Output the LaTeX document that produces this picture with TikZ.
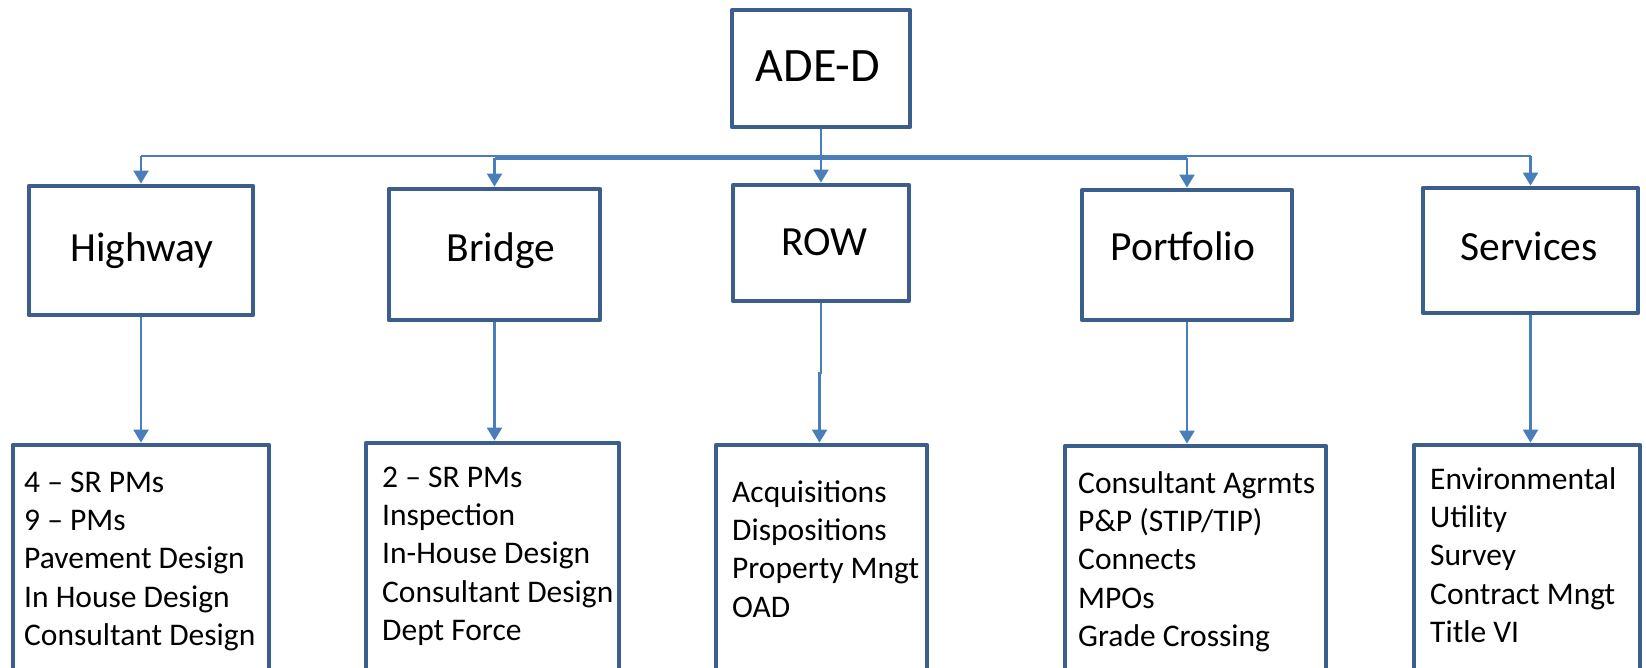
\documentclass[tikz,border=0pt]{standalone}
\usepackage{fontspec}
\setmainfont{Carlito}
\usetikzlibrary{arrows.meta}
\definecolor{boxblue}{HTML}{3B5E8C}
\definecolor{linkblue}{HTML}{4A7EBB}
\newcommand{\bodyfont}{\fontsize{31.5}{38.4}\selectfont}
\newcommand{\midfont}{\fontsize{41.5}{50}\selectfont}
\newcommand{\topfont}{\fontsize{48}{58}\selectfont}
\begin{document}
\begin{tikzpicture}[x=1pt,y=-1pt,
  orgbox/.style={draw=boxblue, line width=4.8pt, fill=white, inner sep=0pt, rectangle, line join=round},
  link/.style={draw=linkblue, line width=2.2pt},
  tip/.style={-{Triangle[width=15pt,length=13pt]}},
  midtext/.style={anchor=base, inner sep=0pt, font=\midfont},
  listtext/.style={anchor=north west, inner sep=0pt, align=left, font=\bodyfont}]
\useasboundingbox (0,0) rectangle (1646,668);
\clip (0,0) rectangle (1646,668);
% boxes
\node[orgbox, minimum width=178pt, minimum height=117pt] (ade) at (821,68.5) {};
\node[orgbox, minimum width=224pt, minimum height=129pt] (hw) at (141,250.5) {};
\node[orgbox, minimum width=211pt, minimum height=131pt] (br) at (494.5,254.5) {};
\node[orgbox, minimum width=176pt, minimum height=116pt] (row) at (821,243) {};
\node[orgbox, minimum width=210pt, minimum height=130pt] (pf) at (1187,255) {};
\node[orgbox, minimum width=215pt, minimum height=125pt] (sv) at (1530.5,250.5) {};
\node[orgbox, minimum width=256pt, minimum height=255pt] (hwb) at (141,572.5) {};
\node[orgbox, minimum width=253pt, minimum height=257pt] (brb) at (492.5,571.5) {};
\node[orgbox, minimum width=211pt, minimum height=255pt] (rowb) at (821.5,572.5) {};
\node[orgbox, minimum width=261pt, minimum height=255pt] (pfb) at (1195.5,573.5) {};
\node[orgbox, minimum width=226pt, minimum height=255pt] (svb) at (1527,572.5) {};
% texts
\node[anchor=base, inner sep=0pt, font=\topfont] (adet) at (818,82) {ADE-D};
\node[midtext] (hwt) at (142,262) {Highway};
\node[midtext] (brt) at (501,262) {Bridge};
\node[midtext] (rowt) at (824.5,256) {ROW};
\node[midtext] (pft) at (1183,261) {Portfolio};
\node[midtext] (svt) at (1529,261) {Services};
\node[listtext] (hwl) at (24,465.1) {\strut 4 – SR PMs\\9 – PMs\\Pavement Design\\In House Design\\Consultant Design};
\node[listtext] (brl) at (382,460.1) {\strut 2 – SR PMs\\Inspection\\In-House Design\\Consultant Design\\Dept Force};
\node[listtext] (rowl) at (732,475.1) {\strut Acquisitions\\Dispositions\\Property Mngt\\OAD};
\node[listtext] (pfl) at (1078,466.1) {\strut Consultant Agrmts\\P\&P (STIP/TIP)\\Connects\\MPOs\\Grade Crossing};
\node[listtext] (svl) at (1430,462.1) {\strut Environmental\\Utility\\Survey\\Contract Mngt\\Title VI};
% connectors
\coordinate (bar) at (0,156);
\coordinate (bartwo) at (0,158.5);
\coordinate (jog) at (819.5,373);
\draw[link] (hw.north |- bar) -- (sv.north |- bar);
\draw[link] (br.north |- bartwo) -- (pf.north |- bartwo);
\draw[link,tip] (ade.south) -- (row.north);
\draw[link,tip] (hw.north |- bar) -- (hw.north);
\draw[link,tip] (br.north |- bartwo) -- (br.north);
\draw[link,tip] (pf.north |- bartwo) -- (pf.north);
\draw[link,tip] (sv.north |- bar) -- (sv.north);
\draw[link,tip] (hw.south) -- (hw.south |- hwb.north);
\draw[link,tip] (br.south) -- (br.south |- brb.north);
\draw[link,tip] (row.south) |- (jog) -- (jog |- rowb.north);
\draw[link,tip] (pf.south) -- (pf.south |- pfb.north);
\draw[link,tip] (sv.south) -- (sv.south |- svb.north);
\end{tikzpicture}
\end{document}
